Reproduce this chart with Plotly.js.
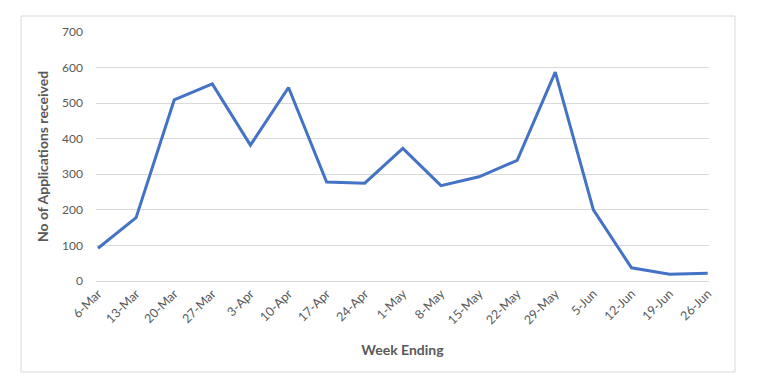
<!DOCTYPE html>
<html>
<head>
<meta charset="utf-8">
<script src="https://cdn.plot.ly/plotly-3.0.1.min.js"></script>
<style>
html,body{margin:0;padding:0;background:#fff;}
#chart{width:757px;height:389px;}
</style>
</head>
<body>
<div id="chart"></div>
<script>
var weeks = ["6-Mar","13-Mar","20-Mar","27-Mar","3-Apr","10-Apr","17-Apr","24-Apr","1-May","8-May","15-May","22-May","29-May","5-Jun","12-Jun","19-Jun","26-Jun"];
var applications = [92,178,509,554,382,544,278,275,373,268,293,339,587,200,37,19,22];
var yTicks = [0,100,200,300,400,500,600,700];

var fontFam = "Lato, 'Open Sans', 'Liberation Sans', sans-serif";
var xIdx = weeks.map(function(_, i){ return i; });

var trace = {
  x: xIdx,
  y: applications,
  type: "scatter",
  mode: "lines",
  line: {color: "#4472C4", width: 3},
  hoverinfo: "skip"
};

var layout = {
  width: 757,
  height: 389,
  margin: {l: 96, r: 48, t: 32, b: 108},
  paper_bgcolor: "#ffffff",
  plot_bgcolor: "#ffffff",
  showlegend: false,
  font: {family: fontFam, color: "#595959", size: 12},
  xaxis: {
    range: [-0.052, 16.034],
    tickmode: "array",
    tickvals: xIdx,
    ticktext: weeks,
    tickangle: -45,
    showgrid: false,
    zeroline: false,
    showline: false,
    ticks: "",
    ticklabelstandoff: 2,
    tickfont: {size: 12.5, color: "#595959", family: fontFam},
    title: {text: "Week Ending", font: {size: 14, color: "#595959", family: fontFam, weight: "bold"}, standoff: 18},
    fixedrange: true
  },
  yaxis: {
    range: [0, 700],
    tickvals: yTicks,
    showgrid: true,
    gridcolor: "#d9d9d9",
    gridwidth: 1,
    zeroline: true,
    zerolinecolor: "#d9d9d9",
    zerolinewidth: 1,
    showline: false,
    ticks: "",
    ticklabelstandoff: 12,
    tickfont: {size: 12, color: "#595959", family: fontFam},
    title: {text: "No of Applications received", font: {size: 14, color: "#595959", family: fontFam, weight: "bold"}, standoff: 10},
    fixedrange: true
  },
  shapes: [{
    type: "rect",
    xref: "paper", yref: "paper",
    x0: (21 - 96) / 613, x1: (735 - 96) / 613,
    y0: (281 - 372) / 249, y1: (281 - 16) / 249,
    line: {color: "#d9d9d9", width: 1},
    fillcolor: "rgba(0,0,0,0)",
    layer: "below"
  }]
};

Plotly.newPlot("chart", [trace], layout, {displayModeBar: false, staticPlot: true});
</script>
</body>
</html>
